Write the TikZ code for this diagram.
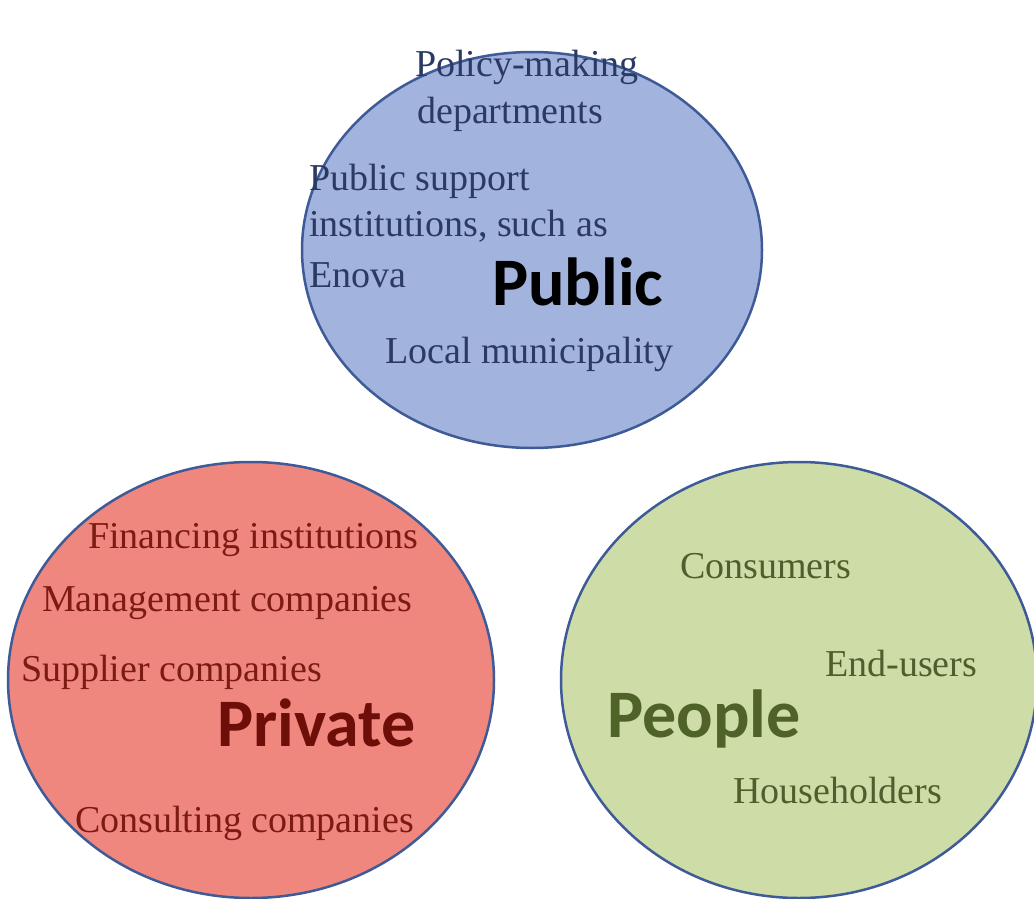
\documentclass[tikz,border=0pt]{standalone}
\usepackage{fontspec}
\setmainfont{Liberation Serif}
\newfontfamily\calfont{Carlito}
\usetikzlibrary{shapes.geometric}
\definecolor{pubfill}{HTML}{A2B3DD}
\definecolor{privfill}{HTML}{F0877F}
\definecolor{peopfill}{HTML}{CEDCA8}
\definecolor{rim}{HTML}{3E5B98}
\definecolor{pubtext}{HTML}{2B3A63}
\definecolor{privtext}{HTML}{7B1B12}
\definecolor{privbold}{HTML}{6E0E08}
\definecolor{peoptext}{HTML}{4D5F2E}
\definecolor{peopbold}{HTML}{4F6228}
\tikzset{
  blob/.style={ellipse, draw=rim, line width=2.5pt, inner sep=0pt},
  item/.style={anchor=base west, inner sep=0pt, font=\fontsize{38}{44}\selectfont},
  big/.style={anchor=base west, inner sep=0pt, font=\calfont\bfseries\fontsize{68}{72}\selectfont}
}
\begin{document}
\begin{tikzpicture}[x=1pt,y=-1pt]
\useasboundingbox (0,0) rectangle (1034,899);
\fill[white] (0,0) rectangle (1034,899);
% circles
\node[blob, fill=pubfill, minimum width=460pt, minimum height=396pt] (pub) at (532,250) {};
\node[blob, fill=privfill, minimum width=486pt, minimum height=436pt] (priv) at (251,680) {};
\node[blob, fill=peopfill, minimum width=476pt, minimum height=436pt] (peop) at (799,680) {};
% public texts
\node[item, text=pubtext] (p1) at (415,77) {Policy-making};
\node[item, text=pubtext] (p2) at (417,123) {departments};
\node[item, text=pubtext] (p3) at (309,190) {Public support};
\node[item, text=pubtext] (p4) at (309,236) {institutions, such as};
\node[item, text=pubtext] (p5) at (309,287) {Enova};
\node[item, text=pubtext] (p6) at (385,363) {Local municipality};
\node[big, text=black] (publbl) at (492,305) {Public};
% private texts
\node[item, text=privtext] (r1) at (88,548) {Financing institutions};
\node[item, text=privtext] (r2) at (42,611) {Management companies};
\node[item, text=privtext] (r3) at (21,681) {Supplier companies};
\node[item, text=privtext] (r4) at (75,832) {Consulting companies};
\node[big, text=privbold] (privlbl) at (217,746) {Private};
% people texts
\node[item, text=peoptext] (e1) at (680,578) {Consumers};
\node[item, text=peoptext] (e2) at (825,676) {End-users};
\node[item, text=peoptext] (e3) at (733,803) {Householders};
\node[big, text=peopbold] (peoplbl) at (607,737) {People};
\end{tikzpicture}
\end{document}
